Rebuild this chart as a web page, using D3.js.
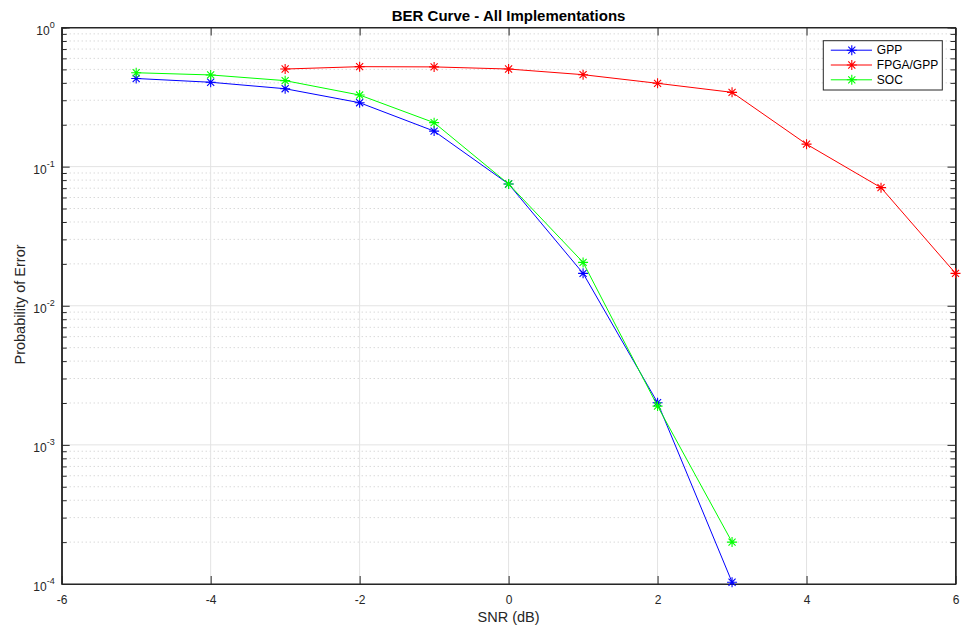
<!DOCTYPE html>
<html>
<head>
<meta charset="utf-8">
<script src="https://cdn.jsdelivr.net/npm/d3@7"></script>
<style>
  body { margin: 0; background: #fff; }
  svg { font-family: "Liberation Sans", Arial, sans-serif; }
</style>
</head>
<body>
<div id="graph"></div>
<script>
// BER curve data
const xTicks = [-6, -4, -2, 0, 2, 4, 6];
const yDecades = [-4, -3, -2, -1, 0];

const gppSnr = [-5, -4, -3, -2, -1, 0, 1, 2, 3];
const gppBer = [0.43, 0.404, 0.363, 0.288, 0.18, 0.075, 0.0171, 0.00201, 0.000103];

const fpgaSnr = [-3, -2, -1, 0, 1, 2, 3, 4, 5, 6];
const fpgaBer = [0.503, 0.523, 0.521, 0.503, 0.458, 0.397, 0.342, 0.145, 0.0706, 0.0171];

const socSnr = [-5, -4, -3, -2, -1, 0, 1, 2, 3];
const socBer = [0.473, 0.456, 0.415, 0.327, 0.207, 0.075, 0.0205, 0.0019, 0.0002];

const seriesNames = ["GPP", "FPGA/GPP", "SOC"];
const seriesColors = ["#0000ff", "#ff0000", "#00ff00"];

const margin = {top: 27.5, right: 5.5, bottom: 44, left: 61.7};
const W = 961, H = 628;
const width = W - margin.left - margin.right;
const height = H - margin.top - margin.bottom;

const x = d3.scaleLinear().domain([-6, 6]).range([0, width]);
const y = d3.scaleLog().domain([1e-4, 1]).range([height, 0]);

const svg = d3.select("#graph")
  .append("svg")
    .attr("width", W)
    .attr("height", H)
  .append("g")
    .attr("transform", `translate(${margin.left}, ${margin.top})`);

const axisColor = "#262626";

// minor values per decade
const minorVals = [];
yDecades.slice(0, -1).forEach(d => {
  for (let m = 2; m <= 9; m++) minorVals.push(m * Math.pow(10, d));
});
const majorVals = yDecades.map(d => Math.pow(10, d));

// minor grid (dotted)
svg.append("g").selectAll("line")
  .data(minorVals).join("line")
    .attr("x1", 0).attr("x2", width)
    .attr("y1", d => y(d)).attr("y2", d => y(d))
    .attr("stroke", "#c8c8c8")
    .attr("stroke-width", 1)
    .attr("stroke-dasharray", "1,3");

// major grid
svg.append("g").selectAll("line")
  .data(majorVals).join("line")
    .attr("x1", 0).attr("x2", width)
    .attr("y1", d => y(d)).attr("y2", d => y(d))
    .attr("stroke", "#e3e3e3");
svg.append("g").selectAll("line")
  .data(xTicks).join("line")
    .attr("x1", d => x(d)).attr("x2", d => x(d))
    .attr("y1", 0).attr("y2", height)
    .attr("stroke", "#e3e3e3");

// axes (inward ticks, box)
const xBottom = d3.axisBottom(x).tickValues(xTicks).tickSizeInner(-8).tickSizeOuter(0)
  .tickPadding(11).tickFormat(d => String(d));
const xTop = d3.axisTop(x).tickValues(xTicks).tickSizeInner(-8).tickSizeOuter(0).tickFormat("");

const gxb = svg.append("g").attr("transform", `translate(0, ${height})`).call(xBottom);
svg.append("g").call(xTop);

const yLeftMinor = d3.axisLeft(y).tickValues(minorVals).tickSize(-5).tickFormat("");
const yRightMinor = d3.axisRight(y).tickValues(minorVals).tickSize(-5).tickFormat("");
const yLeft = d3.axisLeft(y).tickValues(majorVals).tickSizeInner(-8).tickSizeOuter(0).tickFormat("");
const yRight = d3.axisRight(y).tickValues(majorVals).tickSizeInner(-8).tickSizeOuter(0).tickFormat("");

svg.append("g").call(yLeftMinor);
svg.append("g").call(yLeft);
svg.append("g").attr("transform", `translate(${width}, 0)`).call(yRightMinor);
svg.append("g").attr("transform", `translate(${width}, 0)`).call(yRight);

svg.selectAll(".domain").attr("stroke", axisColor);
svg.selectAll(".tick line").attr("stroke", axisColor);
gxb.selectAll(".tick text").attr("fill", axisColor).attr("font-size", 12)
  .attr("font-family", "Liberation Sans, Arial, sans-serif");

// y tick labels as 10^n
const ylab = svg.append("g").selectAll("text")
  .data(yDecades).join("text")
    .attr("x", -7)
    .attr("y", d => y(Math.pow(10, d)) + 7)
    .attr("text-anchor", "end")
    .attr("fill", axisColor)
    .attr("font-size", 12);
ylab.append("tspan").text("10");
ylab.append("tspan").attr("dy", -7).attr("font-size", 9).text(d => d);

// frame
svg.append("rect")
  .attr("width", width).attr("height", height)
  .attr("fill", "none").attr("stroke", axisColor);

// series
const series = [
  {name: seriesNames[0], color: seriesColors[0], pts: gppSnr.map((s, i) => [s, gppBer[i]])},
  {name: seriesNames[1], color: seriesColors[1], pts: fpgaSnr.map((s, i) => [s, fpgaBer[i]])},
  {name: seriesNames[2], color: seriesColors[2], pts: socSnr.map((s, i) => [s, socBer[i]])}
];

const line = d3.line().x(d => x(d[0])).y(d => y(d[1]));

function star(g, cx, cy, color, r) {
  const a = r * Math.SQRT1_2;
  const path = `M${cx - r},${cy}H${cx + r}M${cx},${cy - r}V${cy + r}` +
    `M${cx - a},${cy - a}L${cx + a},${cy + a}M${cx - a},${cy + a}L${cx + a},${cy - a}`;
  g.append("path").attr("d", path).attr("stroke", color).attr("stroke-width", 1.1).attr("fill", "none");
}

series.forEach(s => {
  const g = svg.append("g");
  g.append("path")
    .datum(s.pts)
    .attr("fill", "none")
    .attr("stroke", s.color)
    .attr("stroke-width", 1)
    .attr("d", line);
  s.pts.forEach(p => star(g, x(p[0]), y(p[1]), s.color, 5));
});

// legend
const lg = svg.append("g").attr("transform", `translate(${823.3 - margin.left}, ${40.7 - margin.top})`);
lg.append("rect")
  .attr("width", 119).attr("height", 49.3)
  .attr("fill", "#fff").attr("stroke", axisColor);
series.forEach((s, i) => {
  const ly = 9.5 + i * 14.8;
  lg.append("line").attr("x1", 7.5).attr("x2", 48.7).attr("y1", ly).attr("y2", ly)
    .attr("stroke", s.color).attr("stroke-width", 1);
  star(lg, 28.5, ly, s.color, 5);
  lg.append("text").attr("x", 53.5).attr("y", ly + 4.3)
    .attr("font-size", 12).attr("fill", "#000").text(s.name);
});

// labels
svg.append("text")
  .attr("x", width / 2).attr("y", -6.5)
  .attr("text-anchor", "middle")
  .attr("font-weight", "bold").attr("font-size", 15).attr("fill", "#000")
  .text("BER Curve - All Implementations");

svg.append("text")
  .attr("x", width / 2).attr("y", height + 38.3)
  .attr("text-anchor", "middle")
  .attr("font-size", 14.5).attr("fill", axisColor)
  .text("SNR (dB)");

svg.append("text")
  .attr("transform", `translate(-37.2, ${(243 + 366) / 2 - margin.top}) rotate(-90)`)
  .attr("text-anchor", "middle")
  .attr("font-size", 14.5).attr("fill", axisColor)
  .text("Probability of Error");
</script>
</body>
</html>
